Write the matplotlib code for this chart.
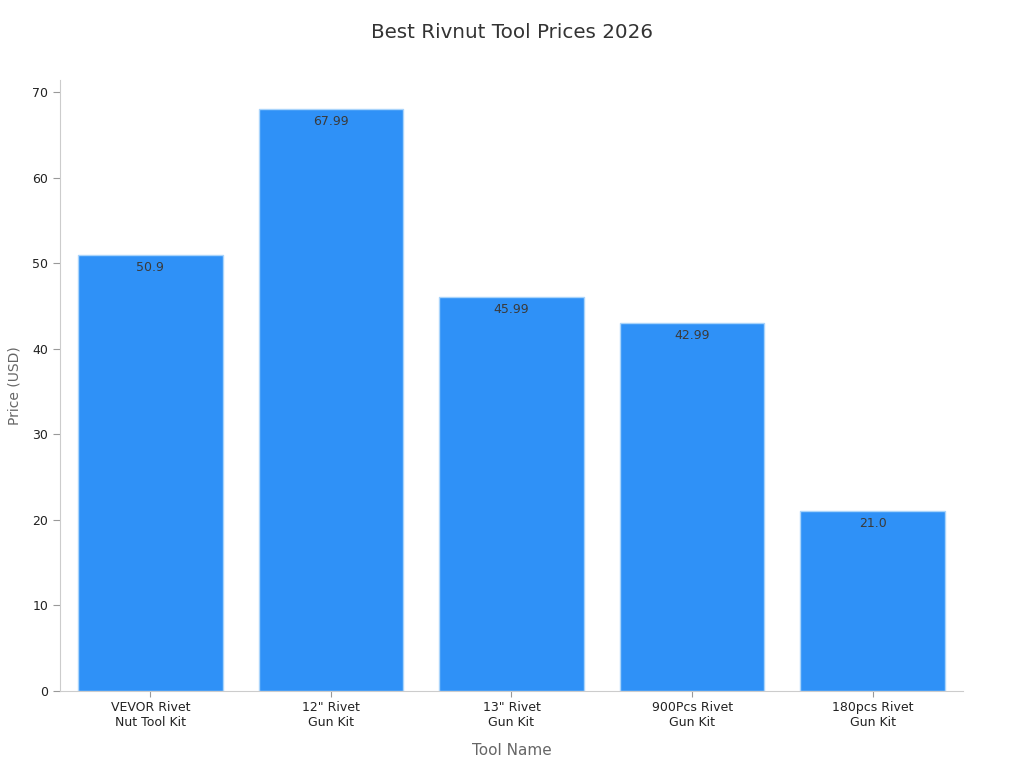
import matplotlib
matplotlib.use("Agg")
import matplotlib.pyplot as plt

categories = ["VEVOR Rivet\nNut Tool Kit", "12\" Rivet\nGun Kit", "13\" Rivet\nGun Kit",
              "900Pcs Rivet\nGun Kit", "180pcs Rivet\nGun Kit"]
prices = [50.9, 67.99, 45.99, 42.99, 21.0]
value_labels = ["50.9", "67.99", "45.99", "42.99", "21.0"]

fig = plt.figure(figsize=(10.24, 7.68), dpi=100)
ax = fig.add_axes([0.0586, 0.1003, 0.8818, 0.7955])

x = list(range(len(categories)))
bars = ax.bar(x, prices, width=0.8, color="#2f91f7", edgecolor="#a9d4fb", linewidth=1)
for xi, v, lab in zip(x, prices, value_labels):
    ax.annotate(lab, (xi, v), xytext=(0, -4), textcoords="offset points",
                ha="center", va="top", fontsize=9, color="#3a3a3a")

ax.set_xlim(-0.5, 4.5)
ax.set_ylim(0, 71.4)
ax.set_xticks(x)
ax.set_xticklabels(categories, fontsize=9, color="#222222")
ax.set_yticks(range(0, 71, 10))
ax.tick_params(axis="y", labelsize=9, colors="#222222", length=5, color="#999999")
ax.tick_params(axis="x", length=4, color="#999999")
for s in ["top", "right"]:
    ax.spines[s].set_visible(False)
for s in ["left", "bottom"]:
    ax.spines[s].set_color("#cccccc")
ax.set_xlabel("Tool Name", fontsize=11, color="#666666", labelpad=10)
ax.set_ylabel("Price (USD)", fontsize=10, color="#666666", labelpad=8)
fig.suptitle("Best Rivnut Tool Prices 2026", fontsize=14.3, color="#333333", y=0.97)

fig.savefig("out.png", dpi=100)
